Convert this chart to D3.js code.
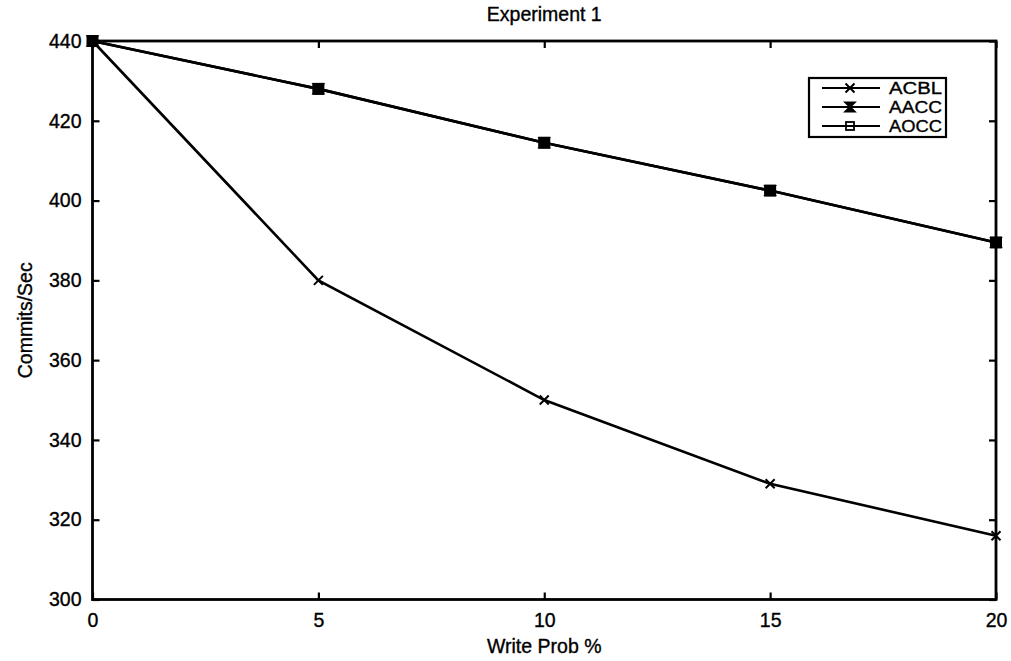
<!DOCTYPE html>
<html>
<head>
<meta charset="utf-8">
<script src="https://cdn.jsdelivr.net/npm/d3@7"></script>
<style>
html,body{margin:0;padding:0;background:#fff;}
svg text{font-family:"Liberation Sans",Arial,Helvetica,sans-serif;fill:#000;stroke:#000;stroke-width:0.35px;}
</style>
</head>
<body>
<svg id="chart" width="1011" height="661"></svg>
<script>
const writeProb = [0, 5, 10, 15, 20];
const acbl = [440, 380, 350, 329, 316];
const aacc = [440, 428, 414.5, 402.5, 389.5];
const aocc = [440, 428, 414.5, 402.5, 389.5];
const xTicks = [0, 5, 10, 15, 20];
const yTicks = [300, 320, 340, 360, 380, 400, 420, 440];
const seriesNames = ["ACBL", "AACC", "AOCC"];
const titleText = "Experiment 1";
const xLabel = "Write Prob %";
const yLabel = "Commits/Sec";

const svg = d3.select("#chart");
const m = {left: 92.5, right: 996, top: 41, bottom: 599.5};
const x = d3.scaleLinear().domain([0, 20]).range([m.left, m.right]);
const y = d3.scaleLinear().domain([300, 440]).range([m.bottom, m.top]);
const fs = 19.5;

const tick = 7;
const gx = svg.append("g").attr("transform", `translate(0,${m.bottom})`)
  .call(d3.axisBottom(x).tickValues(xTicks).tickSizeInner(-tick).tickSizeOuter(0).tickPadding(14).tickFormat(d3.format("d")));
const gxt = svg.append("g").attr("transform", `translate(0,${m.top})`)
  .call(d3.axisTop(x).tickValues(xTicks).tickSizeInner(-tick).tickSizeOuter(0).tickFormat(""));
const gy = svg.append("g").attr("transform", `translate(${m.left},0)`)
  .call(d3.axisLeft(y).tickValues(yTicks).tickSizeInner(-tick).tickSizeOuter(0).tickPadding(11).tickFormat(d3.format("d")));
const gyr = svg.append("g").attr("transform", `translate(${m.right},0)`)
  .call(d3.axisRight(y).tickValues(yTicks).tickSizeInner(-tick).tickSizeOuter(0).tickFormat(""));
[gx, gxt, gy, gyr].forEach(g => {
  g.select(".domain").remove();
  g.selectAll(".tick line").attr("stroke", "#000").attr("stroke-width", 2.2);
  g.selectAll("text").attr("font-size", fs).attr("font-family", '"Liberation Sans",Arial,sans-serif').attr("fill", "#000");
});

svg.append("rect").attr("x", m.left).attr("y", m.top)
  .attr("width", m.right - m.left).attr("height", m.bottom - m.top)
  .attr("fill", "none").attr("stroke", "#000").attr("stroke-width", 2.8);

svg.append("text").attr("x", (m.left + m.right) / 2).attr("y", 21)
  .attr("text-anchor", "middle").attr("font-size", fs).text(titleText);
svg.append("text").attr("x", (m.left + m.right) / 2).attr("y", 653)
  .attr("text-anchor", "middle").attr("font-size", fs).text(xLabel);
svg.append("text").attr("transform", `translate(32,${(m.top + m.bottom) / 2}) rotate(-90)`)
  .attr("text-anchor", "middle").attr("font-size", fs).text(yLabel);

function drawMarker(g, type, cx, cy) {
  if (type === "ACBL") {
    const s = 4.5;
    g.append("path").attr("d", `M${cx - s},${cy - s}L${cx + s},${cy + s}M${cx - s},${cy + s}L${cx + s},${cy - s}`)
      .attr("stroke", "#000").attr("stroke-width", 2).attr("fill", "none");
  } else if (type === "AACC") {
    const s = 4.5;
    g.append("path").attr("d", `M${cx - s},${cy - s}L${cx + s},${cy - s}L${cx - s},${cy + s}L${cx + s},${cy + s}Z`)
      .attr("stroke", "#000").attr("stroke-width", 2).attr("fill", "#000");
  } else {
    const s = 5;
    g.append("rect").attr("x", cx - s).attr("y", cy - s).attr("width", 2 * s).attr("height", 2 * s)
      .attr("stroke", "#000").attr("stroke-width", 2).attr("fill", "none");
  }
}

const series = [
  {name: "AOCC", values: aocc},
  {name: "AACC", values: aacc},
  {name: "ACBL", values: acbl}
];
const line = d3.line().x((d, i) => x(writeProb[i])).y(d => y(d));
series.forEach(s => {
  const g = svg.append("g");
  g.append("path").datum(s.values).attr("d", line)
    .attr("fill", "none").attr("stroke", "#000").attr("stroke-width", 2.6);
  s.values.forEach((v, i) => drawMarker(g, s.name, x(writeProb[i]), y(v)));
});
aocc.forEach((v, i) => {
  svg.append("rect").attr("x", x(writeProb[i]) - 5.5).attr("y", y(v) - 5.5).attr("width", 11).attr("height", 11).attr("fill", "#000");
});

const lg = svg.append("g");
lg.append("rect").attr("x", 809).attr("y", 78).attr("width", 137).attr("height", 59)
  .attr("fill", "#fff").attr("stroke", "#000").attr("stroke-width", 2.2);
const rowY = [88, 107, 126];
seriesNames.forEach((n, i) => {
  lg.append("line").attr("x1", 822).attr("x2", 880).attr("y1", rowY[i]).attr("y2", rowY[i])
    .attr("stroke", "#000").attr("stroke-width", 2.2);
  if (n === "AOCC") {
    lg.append("rect").attr("x", 846).attr("y", rowY[i] - 4).attr("width", 8).attr("height", 8)
      .attr("fill", "#fff").attr("stroke", "#000").attr("stroke-width", 1.8);
    lg.append("line").attr("x1", 846).attr("x2", 854).attr("y1", rowY[i]).attr("y2", rowY[i])
      .attr("stroke", "#000").attr("stroke-width", 2);
  } else {
    drawMarker(lg, n, 850, rowY[i]);
  }
  lg.append("text").attr("x", 889).attr("y", rowY[i]).attr("dy", "0.36em")
    .attr("font-size", 16.5).attr("textLength", 53).attr("lengthAdjust", "spacingAndGlyphs").text(n);
});
</script>
</body>
</html>
